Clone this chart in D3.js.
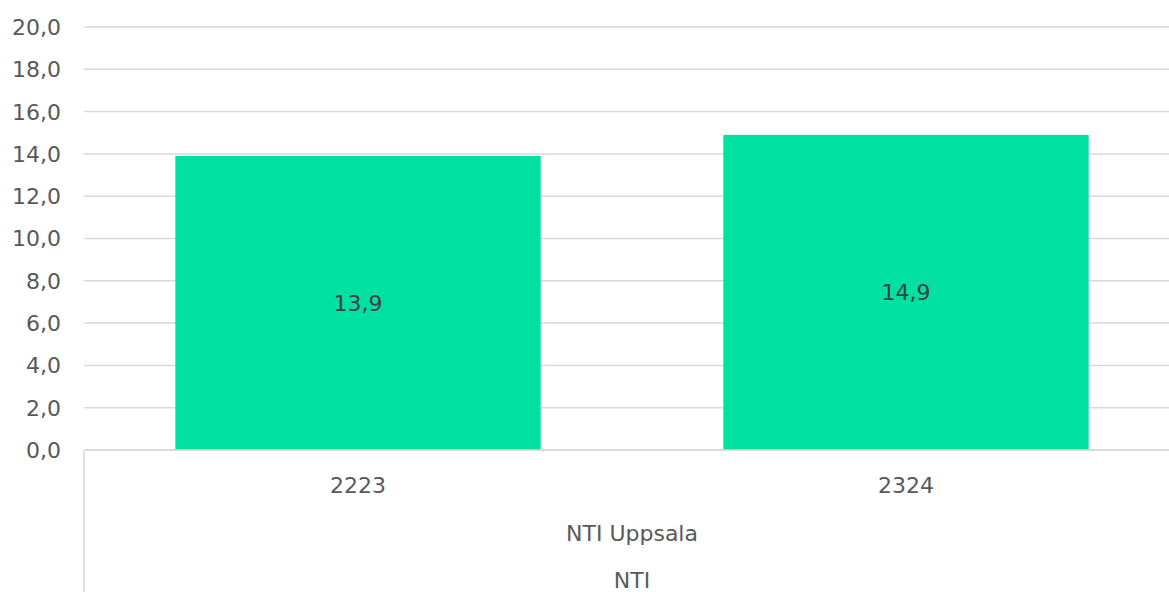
<!DOCTYPE html>
<html>
<head>
<meta charset="utf-8">
<script src="https://cdn.jsdelivr.net/npm/d3@7"></script>
<style>
  html, body { margin: 0; padding: 0; background: #fff; }
  svg { display: block; font-family: "DejaVu Sans", sans-serif; }
</style>
</head>
<body>
<div id="chart"></div>
<script>
  // ---------- Data ----------
  const categories = ['2223', '2324'];
  const values = [13.9, 14.9];
  const groupLabel = 'NTI Uppsala';
  const topLabel = 'NTI';
  const yTicks = [0, 2, 4, 6, 8, 10, 12, 14, 16, 18, 20];

  const W = 1169, H = 592;
  const plotLeft = 84, plotRight = 1180, plotTop = 27, plotBottom = 450;
  const gridColor = '#d9d9d9';
  const textColor = '#595959';
  const barColor = '#00e0a0';
  const fontSize = '22px';

  const fmt = v => d3.format('.1f')(v).replace('.', ',');

  const svg = d3.select('#chart').append('svg')
    .attr('width', W)
    .attr('height', H);

  const x = d3.scaleBand()
    .domain(categories)
    .range([plotLeft, plotRight])
    .paddingInner(1 / 3)
    .paddingOuter(1 / 6);

  const y = d3.scaleLinear().domain([0, 20]).range([plotBottom, plotTop]);

  // gridlines
  svg.append('g')
    .selectAll('line')
    .data(yTicks)
    .enter()
    .append('line')
    .attr('x1', plotLeft).attr('x2', W)
    .attr('y1', d => y(d)).attr('y2', d => y(d))
    .attr('stroke', gridColor)
    .attr('stroke-width', 1.5);

  // y labels
  svg.append('g')
    .selectAll('text')
    .data(yTicks)
    .enter()
    .append('text')
    .attr('x', 61)
    .attr('y', d => y(d))
    .attr('dy', '0.36em')
    .attr('text-anchor', 'end')
    .attr('fill', textColor)
    .style('font-size', fontSize)
    .text(fmt);

  // bars
  svg.append('g')
    .selectAll('rect')
    .data(values)
    .enter()
    .append('rect')
    .attr('x', (d, i) => x(categories[i]))
    .attr('width', x.bandwidth())
    .attr('y', d => y(d))
    .attr('height', d => y(0) - y(d))
    .attr('fill', barColor);

  // value labels
  svg.append('g')
    .selectAll('text')
    .data(values)
    .enter()
    .append('text')
    .attr('x', (d, i) => x(categories[i]) + x.bandwidth() / 2)
    .attr('y', d => (y(d) + y(0)) / 2)
    .attr('dy', '0.36em')
    .attr('text-anchor', 'middle')
    .attr('fill', '#404040')
    .style('font-size', fontSize)
    .text(fmt);

  // axis baseline + category table left border
  svg.append('line')
    .attr('x1', plotLeft).attr('x2', W)
    .attr('y1', y(0)).attr('y2', y(0))
    .attr('stroke', gridColor).attr('stroke-width', 1.5);
  svg.append('line')
    .attr('x1', plotLeft).attr('x2', plotLeft)
    .attr('y1', y(0)).attr('y2', H)
    .attr('stroke', gridColor).attr('stroke-width', 1.5);

  // category labels
  svg.append('g')
    .selectAll('text')
    .data(categories)
    .enter()
    .append('text')
    .attr('x', d => x(d) + x.bandwidth() / 2)
    .attr('y', 485)
    .attr('dy', '0.36em')
    .attr('text-anchor', 'middle')
    .attr('fill', textColor)
    .style('font-size', fontSize)
    .text(d => d);

  const mid = (x(categories[0]) + x(categories[1]) + x.bandwidth()) / 2;
  svg.append('text')
    .attr('x', mid).attr('y', 533).attr('dy', '0.36em')
    .attr('text-anchor', 'middle')
    .attr('fill', textColor)
    .style('font-size', fontSize)
    .text(groupLabel);
  svg.append('text')
    .attr('x', mid).attr('y', 580).attr('dy', '0.36em')
    .attr('text-anchor', 'middle')
    .attr('fill', textColor)
    .style('font-size', fontSize)
    .text(topLabel);
</script>
</body>
</html>
